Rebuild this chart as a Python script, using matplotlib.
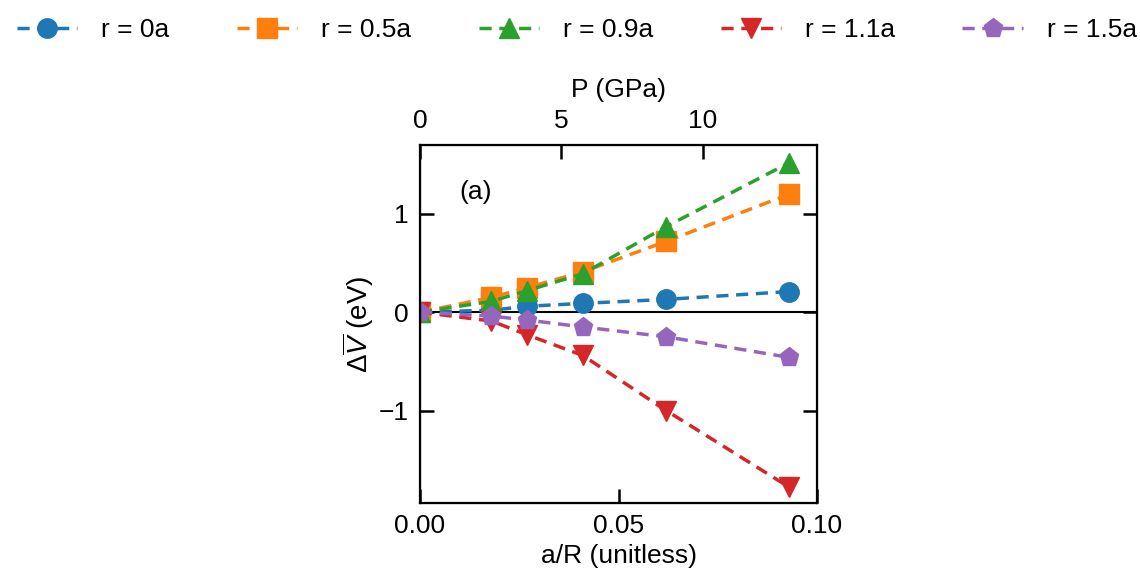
import matplotlib
matplotlib.use("Agg")
import matplotlib.pyplot as plt

plt.rcParams['font.family'] = ['Liberation Sans', 'DejaVu Sans']
plt.rcParams['mathtext.fontset'] = 'custom'
plt.rcParams['mathtext.rm'] = 'Liberation Sans'
plt.rcParams['mathtext.it'] = 'Liberation Sans:italic'

# a/R values of the simulated cells
a_over_R = [0.0, 0.018, 0.027, 0.041, 0.062, 0.093]

labels = ['r = 0a', 'r = 0.5a', 'r = 0.9a', 'r = 1.1a', 'r = 1.5a']
dv_r0 = [0.0, 0.02, 0.06, 0.09, 0.13, 0.21]
dv_r05 = [0.0, 0.15, 0.25, 0.41, 0.72, 1.20]
dv_r09 = [0.0, 0.11, 0.22, 0.39, 0.87, 1.52]
dv_r11 = [0.0, -0.09, -0.23, -0.44, -1.00, -1.78]
dv_r15 = [0.0, -0.04, -0.08, -0.15, -0.25, -0.46]

colors = ['#1f77b4', '#ff7f0e', '#2ca02c', '#d62728', '#9467bd']
markers = ['o', 's', '^', 'v', 'p']

fig = plt.figure(figsize=(11.4, 5.8), dpi=100)
ax = fig.add_axes([0.3684, 0.1328, 0.3483, 0.6172])

series = [dv_r0, dv_r05, dv_r09, dv_r11, dv_r15]
for ys, lab, c, m in zip(series, labels, colors, markers):
    ax.plot(a_over_R, ys, linestyle='--', color=c, marker=m, markersize=14,
            linewidth=2.5, label=lab, dashes=(3.5, 2.2))

ax.axhline(0, color='black', linewidth=1.5, zorder=1)

ax.set_xlim(0, 0.1)
ax.set_ylim(-1.94, 1.70)
ax.set_xticks([0.0, 0.05, 0.10])
ax.set_xticklabels(['0.00', '0.05', '0.10'])
ax.set_yticks([-1, 0, 1])
ax.set_yticklabels(['\u22121', '0', '1'])
ax.tick_params(direction='in', length=10, width=1.8, labelsize=19, right=True, pad=8)
for s in ax.spines.values():
    s.set_linewidth(1.6)

ax.set_xlabel('a/R (unitless)', fontsize=19, labelpad=4)
ax.set_ylabel(r'$\mathrm{\Delta}\overline{V}$ (eV)', fontsize=20, labelpad=2)

ax.text(0.10, 0.87, '(a)', transform=ax.transAxes, fontsize=19, va='center')

# pressure axis on top
top = ax.twiny()
top.set_xlim(0, 14.03)
top.set_xticks([0, 5, 10])
top.tick_params(direction='in', length=10, width=1.8, labelsize=19, pad=9)
top.set_xlabel('P (GPa)', fontsize=19, labelpad=8)

handles, labs = ax.get_legend_handles_labels()
fig.legend(handles, labs, loc='upper center', bbox_to_anchor=(0.506, 1.01), ncol=5,
           frameon=False, fontsize=19, handlelength=2.3, columnspacing=2.55,
           handletextpad=0.9)

fig.savefig('out.png', dpi=100)
